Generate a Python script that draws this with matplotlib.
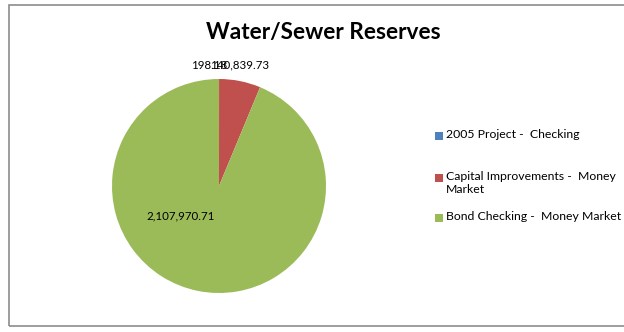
import matplotlib
matplotlib.use('AGG')
import matplotlib.pyplot as plt
from matplotlib.patches import Rectangle
import numpy as np

plt.rcParams['font.family'] = ['Lato', 'DejaVu Sans']

# data
labels = ['2005 Project -  Checking', 'Capital Improvements -  Money\nMarket',
          'Bond Checking -  Money Market']
values = [198.18, 140839.73, 2107970.71]
value_text = ['198.18', '140,839.73', '2,107,970.71']
colors = ['#4F81BD', '#C0504D', '#9BBB59']

W, H = 624, 332
fig = plt.figure(figsize=(W / 100, H / 100), dpi=100)

# chart border
fig.patches.append(Rectangle((9 / W, 1 - 326 / H), 1.0, (326 - 5) / H,
                             transform=fig.transFigure, fill=False,
                             edgecolor='#8c8c8c', linewidth=1.2))

# pie region
cx, cy, r = 219, 186, 107
ax = fig.add_axes([(cx - r) / W, 1 - (cy + r) / H, 2 * r / W, 2 * r / H])
wedges, _ = ax.pie(values, colors=colors, startangle=90, counterclock=False,
                   radius=1.0, wedgeprops=dict(linewidth=0))
ax.set_xlim(-1, 1)
ax.set_ylim(-1, 1)
ax.set_aspect('auto')
ax.axis('off')

# data labels (outside end for small ones, inside for the big one)
label_pos = [(-0.09, 1.13), (0.19, 1.13), (-0.36, -0.28)]
for txt, (lx, ly) in zip(value_text, label_pos):
    ax.text(lx, ly, txt, ha='center', va='center', fontsize=8.3,
            color='#000000', clip_on=False)

fig.text(323 / W, 1 - 32 / H, 'Water/Sewer Reserves', ha='center',
         va='center', fontsize=16.3, fontweight='bold')

# legend
leg_y = [136, 178, 218]
for lab, col, y in zip(labels, colors, leg_y):
    fig.patches.append(Rectangle((435 / W, 1 - (y + 4) / H), 8 / W, 8 / H,
                                 transform=fig.transFigure, facecolor=col,
                                 edgecolor='none'))
    fig.text(446 / W, 1 - (y - 7) / H, lab, ha='left', va='top',
             fontsize=8.8, linespacing=1.2)

fig.savefig('out.png', dpi=100)
